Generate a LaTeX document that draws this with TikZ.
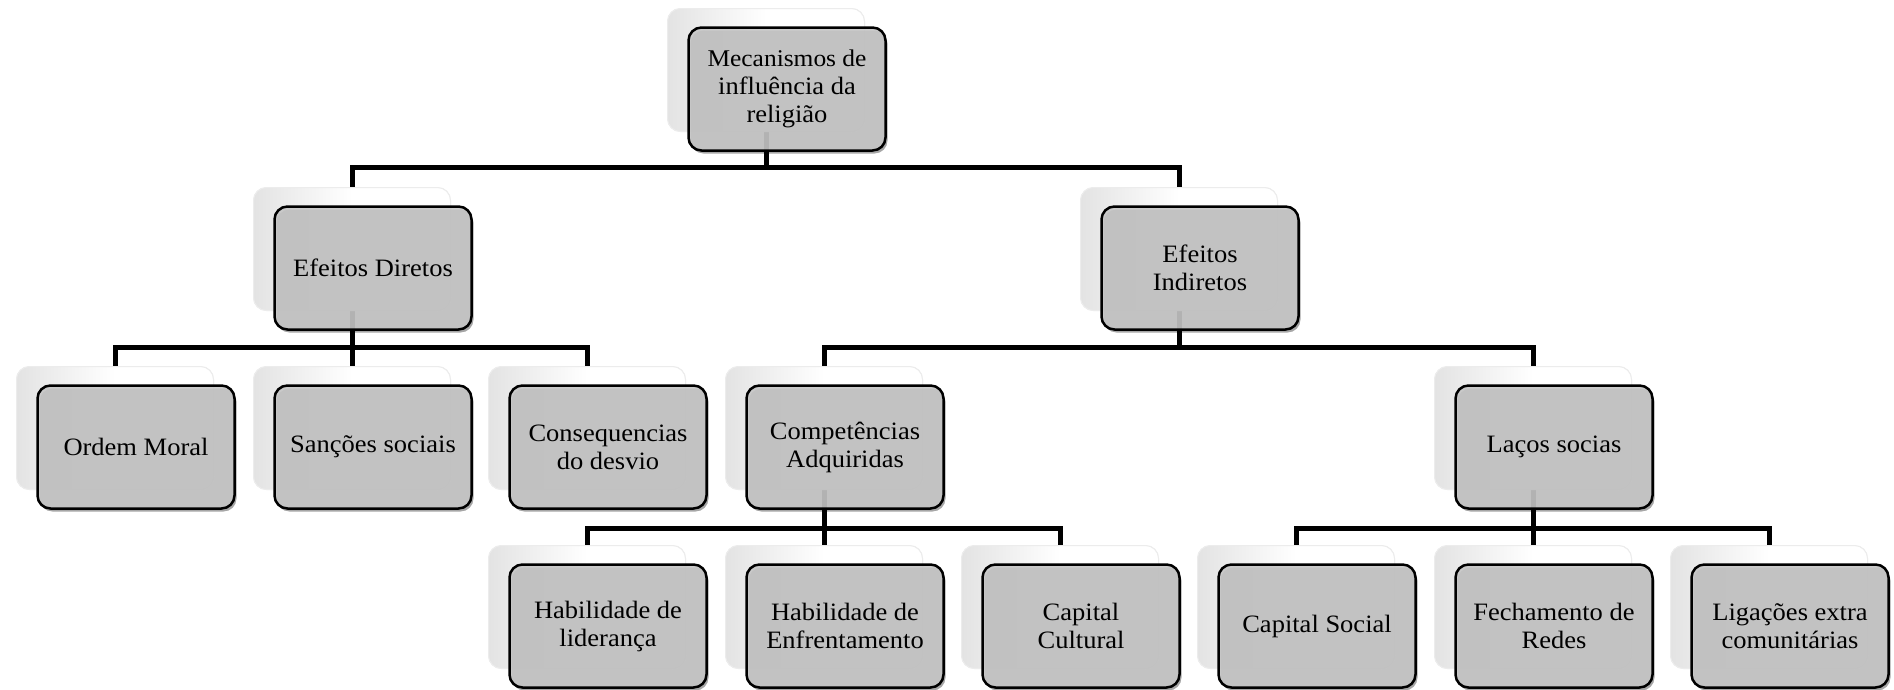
\documentclass[tikz,border=0pt]{standalone}
\usepackage{fontspec}
\newfontfamily\boxfont{Liberation Serif}[FakeStretch=1.06]
\usetikzlibrary{shadows}
\definecolor{boxgray}{RGB}{198,198,198}
\tikzset{
  front/.style={draw=black, line width=2.5pt, rounded corners=13pt, fill=boxgray,
    fill opacity=0.9, text opacity=1, minimum width=197pt, minimum height=123pt,
    align=center, inner sep=0pt, font=\boxfont\fontsize{25}{28}\selectfont,
    drop shadow={shadow xshift=2pt, shadow yshift=-3pt, opacity=0.35, fill=black}},
  back/.style={draw=gray!15, line width=1pt, rounded corners=13pt,
    left color=gray!22, right color=white, middle color=white,
    minimum width=197pt, minimum height=123pt, inner sep=0pt},
  conn/.style={line width=5pt, draw=black}
}
\begin{document}
\begin{tikzpicture}[x=1pt,y=-1pt]
\useasboundingbox (0,0) rectangle (1894,689);
% bus levels
\coordinate (bus1) at (0,167);
\coordinate (bus2) at (0,347);
\coordinate (bus3) at (0,528);
% back box positions
\path
  (766,70)   coordinate (rootP)
  (352,249)  coordinate (edP)
  (1179,249) coordinate (eiP)
  (115,428)  coordinate (omP)
  (352,428)  coordinate (ssP)
  (587,428)  coordinate (cdP)
  (824,428)  coordinate (caP)
  (1533,428) coordinate (lsP)
  (587,607)  coordinate (hlP)
  (824,607)  coordinate (heP)
  (1060,607) coordinate (ccP)
  (1296,607) coordinate (csP)
  (1533,607) coordinate (frP)
  (1769,607) coordinate (leP);
\foreach \n in {root,ed,ei,om,ss,cd,ca,ls,hl,he,cc,cs,fr,le}
  \node[back] (\n B) at (\n P) {};
% connectors
\draw[conn] (rootB.center) |- (edB.north |- bus1) -- (edB.north);
\draw[conn] (rootB.center) |- (eiB.north |- bus1) -- (eiB.north);
\draw[conn] (edB.center) |- (omB.north |- bus2) -- (omB.north);
\draw[conn] (edB.center) -- (ssB.north);
\draw[conn] (edB.center) |- (cdB.north |- bus2) -- (cdB.north);
\draw[conn] (eiB.center) |- (caB.north |- bus2) -- (caB.north);
\draw[conn] (eiB.center) |- (lsB.north |- bus2) -- (lsB.north);
\draw[conn] (caB.center) |- (hlB.north |- bus3) -- (hlB.north);
\draw[conn] (caB.center) -- (heB.north);
\draw[conn] (caB.center) |- (ccB.north |- bus3) -- (ccB.north);
\draw[conn] (lsB.center) |- (csB.north |- bus3) -- (csB.north);
\draw[conn] (lsB.center) -- (frB.north);
\draw[conn] (lsB.center) |- (leB.north |- bus3) -- (leB.north);
% back boxes again, covering the connector starts
\foreach \n in {root,ed,ei,om,ss,cd,ca,ls,hl,he,cc,cs,fr,le}
  \node[back] at (\n P) {};
% front boxes
\node[front] (root) at (787,89)  {\fontsize{24}{25}\selectfont Mecanismos de\\influência da\\religião};
\node[front] (ed)   at (373,268) {Efeitos Diretos};
\node[front] (ei)   at (1200,268) {Efeitos\\Indiretos};
\node[front] (om)   at (136,447) {Ordem Moral};
\node[front] (ss)   at (373,447) {Sanções sociais};
\node[front] (cd)   at (608,447) {Consequencias\\do desvio};
\node[front] (ca)   at (845,447) {Competências\\Adquiridas};
\node[front] (ls)   at (1554,447) {Laços socias};
\node[front] (hl)   at (608,626) {Habilidade de\\liderança};
\node[front] (he)   at (845,626) {Habilidade de\\Enfrentamento};
\node[front] (cc)   at (1081,626) {Capital\\Cultural};
\node[front] (cs)   at (1317,626) {Capital Social};
\node[front] (fr)   at (1554,626) {Fechamento de\\Redes};
\node[front] (le)   at (1790,626) {Ligações extra\\comunitárias};
\end{tikzpicture}
\end{document}
